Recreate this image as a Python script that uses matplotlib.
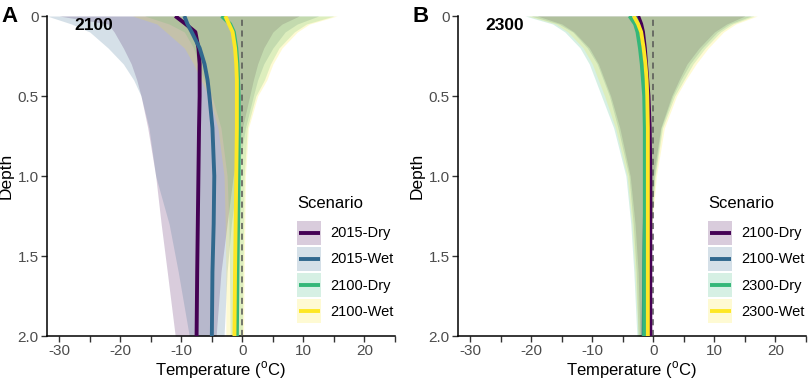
import matplotlib
matplotlib.use("Agg")
import matplotlib.pyplot as plt
from matplotlib.patches import Patch
from matplotlib.lines import Line2D
from matplotlib.legend_handler import HandlerBase

plt.rcParams['font.family'] = ['Liberation Sans', 'DejaVu Sans']
plt.rcParams['mathtext.fontset'] = 'custom'
plt.rcParams['mathtext.rm'] = 'Liberation Sans'

depth = [0, 0.05, 0.1, 0.2, 0.3, 0.4, 0.5, 0.7, 1.0, 1.3, 1.6, 2.0]
colors = ['#440154', '#31688E', '#35B779', '#FDE725']

# Panel A (2100)
a_labels = ['2015-Dry', '2015-Wet', '2100-Dry', '2100-Wet']
a_mean = [
    [-11.0, -9.3, -7.7, -7.2, -7.0, -7.0, -7.0, -7.1, -7.2, -7.3, -7.4, -7.5],
    [-9.5, -9.0, -8.3, -7.0, -6.2, -5.7, -5.4, -4.9, -4.6, -4.7, -4.9, -5.0],
    [-3.4, -2.0, -1.4, -1.0, -0.8, -0.7, -0.6, -0.6, -0.6, -0.7, -0.8, -0.9],
    [-2.8, -2.2, -1.6, -1.2, -1.0, -0.9, -0.9, -0.9, -1.0, -1.1, -1.2, -1.3],
]
a_low = [
    [-30, -22, -21, -19.5, -18.2, -17.3, -16.6, -15.5, -14.2, -13.3, -12.3, -11],
    [-32, -28, -25, -22, -19.5, -17.8, -16.6, -15.3, -14.2, -12, -10.5, -8.7],
    [-16, -12, -9.5, -8, -7.2, -6.3, -5, -3.5, -2.5, -2.2, -2.1, -2],
    [-18, -14, -12.5, -9.5, -8, -6.8, -5.5, -4, -3, -2.8, -2.7, -2.7],
]
a_high = [
    [9.3, 6.5, 5, 3.5, 2.5, 1.8, 1.2, 0, -1.5, -2.5, -3.5, -4.3],
    [12.5, 9, 7, 5, 3.5, 2.5, 1.8, 0.5, -0.8, -1.8, -2.5, -3],
    [15, 10.5, 8.5, 6, 4.6, 3.6, 2.2, 0.8, 0.3, 0.2, 0.1, 0],
    [15.5, 11, 9, 6.5, 5, 4, 2.5, 1, 0.5, 0.4, 0.3, 0.2],
]

# Panel B (2300)
b_labels = ['2100-Dry', '2100-Wet', '2300-Dry', '2300-Wet']
b_mean = [
    [-2.5, -2.0, -1.7, -1.4, -1.2, -1.0, -0.8, -0.6, -0.5, -0.5, -0.5, -0.5],
    [-3.0, -2.5, -2.2, -1.8, -1.6, -1.4, -1.3, -1.2, -1.3, -1.4, -1.5, -1.6],
    [-3.9, -3.0, -2.6, -2.2, -1.9, -1.7, -1.5, -1.4, -1.4, -1.4, -1.5, -1.5],
    [-3.2, -2.5, -2.0, -1.6, -1.3, -1.1, -1.0, -0.9, -0.9, -0.9, -0.9, -0.9],
]
b_low = [
    [-19, -15, -13, -10.5, -9, -8, -7, -5.5, -3.8, -3, -2.5, -2.2],
    [-20, -15.5, -13.2, -10.8, -9.2, -8.2, -7.2, -5.8, -4, -3.3, -2.8, -2.5],
    [-21, -16.5, -14.5, -12, -10.5, -9.5, -8.5, -6.5, -4.5, -3.7, -3.2, -2.7],
    [-20.5, -16, -14, -11.5, -10, -9, -8, -6.2, -4.3, -3.5, -3, -2.5],
]
b_high = [
    [15, 12, 10, 7.5, 5.5, 4.2, 3, 1.2, 0, -0.3, -0.5, -0.7],
    [16, 12.5, 10.5, 8, 6, 4.5, 3.2, 1.3, 0.2, -0.3, -0.5, -0.7],
    [16.5, 13, 11, 8.5, 6.5, 5, 3.5, 1.5, 0.3, -0.3, -0.5, -0.7],
    [17, 13.5, 11.5, 9, 7, 5.3, 3.8, 1.8, 0.5, -0.2, -0.4, -0.5],
]

xticks = [-30, -25, -20, -15, -10, -5, 0, 5, 10, 15, 20, 25]
xticklabels = ['-30', '', '-20', '', '-10', '', '0', '', '10', '', '20', '']
yticks = [0, 0.5, 1.0, 1.5, 2.0]
yticklabels = ['0', '0.5', '1.0', '1.5', '2.0']

W, H = 809, 381
fig = plt.figure(figsize=(W / 100, H / 100), dpi=100)


class KeyHandler(HandlerBase):
    """ggplot-like legend key: light filled square with a line across its middle."""

    def create_artists(self, legend, orig_handle, xdescent, ydescent, width,
                       height, fontsize, trans):
        col = orig_handle.get_color()
        rect = matplotlib.patches.Rectangle((-xdescent, -ydescent), width, height,
                                            facecolor=col, alpha=0.2, linewidth=0,
                                            transform=trans)
        yc = -ydescent + height / 2
        line = Line2D([-xdescent + 1, -xdescent + width - 1], [yc, yc], color=col,
                      linewidth=2.8, solid_capstyle='butt', transform=trans)
        return [rect, line]


def panel(left_px, letter, year, labels, mean, low, high):
    ax = fig.add_axes([left_px / W, (H - 336) / H, 348 / W, 320 / H])
    for i in range(4):
        ax.fill_betweenx(depth, low[i], high[i], color=colors[i], alpha=0.2, linewidth=0)
    ax.axvline(0, color='#555555', linestyle=(0, (4, 3)), linewidth=1.1, zorder=3)
    lines = []
    for i in range(4):
        ln, = ax.plot(mean[i], depth, color=colors[i], linewidth=2.8, zorder=4,
                      solid_capstyle='butt')
        lines.append(ln)
    ax.set_xlim(-32, 25)
    ax.set_ylim(2.0, 0)
    ax.set_xticks(xticks)
    ax.set_xticklabels(xticklabels)
    ax.set_yticks(yticks)
    ax.set_yticklabels(yticklabels)
    for s in ['top', 'right']:
        ax.spines[s].set_visible(False)
    for s in ['left', 'bottom']:
        ax.spines[s].set_linewidth(1.1)
        ax.spines[s].set_color('black')
    ax.tick_params(axis='both', length=4, width=1.0, color='#333333',
                   labelcolor='#4D4D4D', labelsize=11, pad=2)
    ax.set_xlabel(r'Temperature ($^{\mathrm{o}}$C)', fontsize=12, labelpad=1)
    ax.set_ylabel('Depth', fontsize=12.5, labelpad=3)
    ax.text(-24.3, 0.06, year, fontsize=12.5, fontweight='bold', ha='center', va='center')
    fig.text((left_px - 37) / W, 1 - 16 / H, letter, fontsize=16, fontweight='bold',
             ha='center', va='center')
    leg = ax.legend(lines, labels, title='Scenario', loc='upper left',
                    bbox_to_anchor=(0.69, 0.47), frameon=False, fontsize=10.5,
                    title_fontsize=12, handlelength=1.65, handleheight=2.2,
                    labelspacing=0.12, handletextpad=0.6, borderpad=0.2,
                    handler_map={Line2D: KeyHandler()})
    leg._legend_box.align = 'left'
    leg._legend_box.sep = 7
    return ax


panel(47, 'A', '2100', a_labels, a_mean, a_low, a_high)
panel(458, 'B', '2300', b_labels, b_mean, b_low, b_high)

fig.savefig('out.png', dpi=100)
